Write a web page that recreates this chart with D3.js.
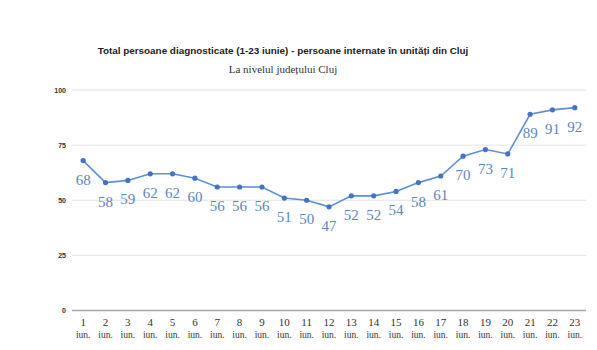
<!DOCTYPE html>
<meta charset="utf-8">
<head>
  <title>Cluj</title>
</head>
<style>
  body { margin: 0; background: white; }
  .title { font-family: "Liberation Sans", Arial, sans-serif; font-size: 9.9px; font-weight: bold; fill: #222; text-anchor: middle; }
  .subtitle { font-family: "Liberation Serif", "Times New Roman", serif; font-size: 11px; fill: #333; text-anchor: middle; }
  .ylab { font-family: "Liberation Sans", Arial, sans-serif; font-size: 7px; font-weight: bold; fill: #333; text-anchor: end; }
  .xlab { font-family: "Liberation Serif", "Times New Roman", serif; font-size: 11px; fill: #333; text-anchor: middle; }
  .val { font-family: "Liberation Serif", "Times New Roman", serif; font-size: 15px; fill: #5b86c0; text-anchor: middle; }
</style>
<body>
<script src="https://d3js.org/d3.v7.min.js"></script>
<div id="chart"></div>
<script>
var days = d3.range(1, 24).map(String);
var values = [68, 58, 59, 62, 62, 60, 56, 56, 56, 51, 50, 47, 52, 52, 54, 58, 61, 70, 73, 71, 89, 91, 92];
var yTicks = [0, 25, 50, 75, 100];

var svg = d3.select("#chart").append("svg")
  .attr("width", 597)
  .attr("height", 350);

var x = d3.scaleBand().domain(days).range([72, 586]);
var y = d3.scaleLinear().domain([0, 100]).range([310.5, 90]);

svg.append("text").attr("class", "title")
  .attr("x", 283).attr("y", 54)
  .text("Total persoane diagnosticate (1-23 iunie) - persoane internate în unități din Cluj");
svg.append("text").attr("class", "subtitle")
  .attr("x", 283).attr("y", 73)
  .text("La nivelul județului Cluj");

// grid
svg.selectAll(".grid").data(yTicks).enter().append("line")
  .attr("x1", 72).attr("x2", 586)
  .attr("y1", function(d) { return y(d); })
  .attr("y2", function(d) { return y(d); })
  .attr("stroke", function(d) { return d === 0 ? "#a8a8a8" : "#e3e3e3"; })
  .attr("stroke-width", function(d) { return d === 0 ? 1.5 : 1; });

svg.selectAll(".ylab").data(yTicks).enter().append("text")
  .attr("class", "ylab")
  .attr("x", 66)
  .attr("y", function(d) { return y(d) + 2.5; })
  .text(function(d) { return d; });

var xl = svg.selectAll(".xlab").data(days).enter().append("text")
  .attr("class", "xlab")
  .attr("x", function(d) { return x(d) + x.bandwidth() / 2; })
  .attr("y", 326);
xl.append("tspan").text(function(d) { return d; });
xl.append("tspan")
  .attr("x", function(d) { return x(d) + x.bandwidth() / 2; })
  .attr("dy", 12).style("font-size", "9.5px").text("iun.");

var pts = days.map(function(d, i) { return { day: d, v: values[i] }; });

var line = d3.line()
  .x(function(d) { return x(d.day) + x.bandwidth() / 2; })
  .y(function(d) { return y(d.v); });

svg.append("path").datum(pts)
  .attr("d", line)
  .attr("fill", "none")
  .attr("stroke", "#5b8fd6")
  .attr("stroke-width", 1.6);

svg.selectAll(".pt").data(pts).enter().append("circle")
  .attr("cx", function(d) { return x(d.day) + x.bandwidth() / 2; })
  .attr("cy", function(d) { return y(d.v); })
  .attr("r", 2.6)
  .attr("fill", "#4472c4");

svg.selectAll(".val").data(pts).enter().append("text")
  .attr("class", "val")
  .attr("x", function(d) { return x(d.day) + x.bandwidth() / 2; })
  .attr("y", function(d) { return y(d.v) + 24; })
  .text(function(d) { return d.v; });
</script>
</body>
